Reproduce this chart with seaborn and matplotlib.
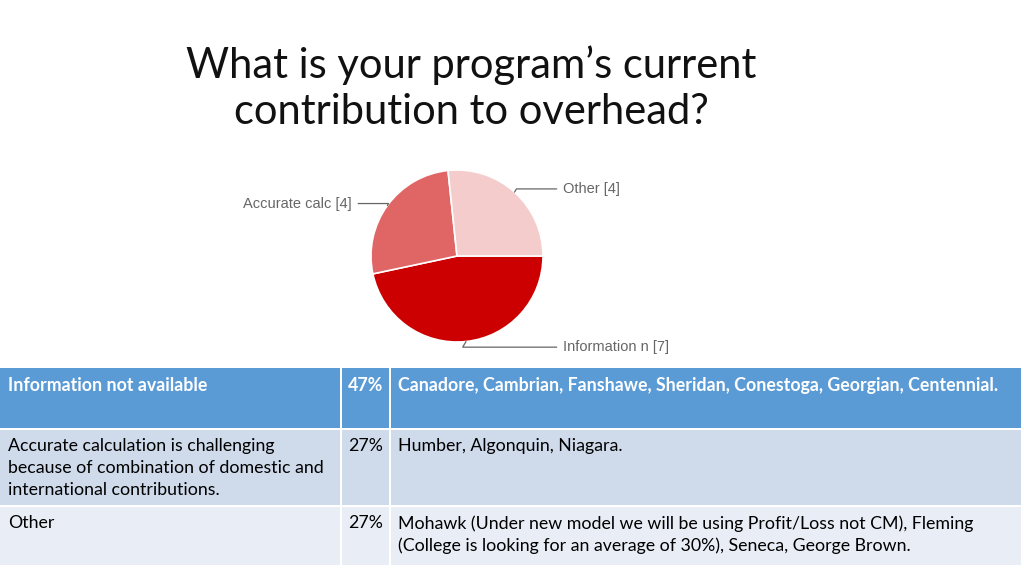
import numpy as np
import matplotlib.pyplot as plt
import seaborn as sns
from matplotlib.patches import Rectangle

sns.set_theme(style='white')
plt.rcParams['font.family'] = ['Lato', 'DejaVu Sans']

# pie data
pie_labels = ['Information n', 'Accurate calc', 'Other']
pie_counts = [7, 4, 4]
pie_colors = ['#cc0000', '#e06666', '#f4cccc']

# table data
row_answers = ['Information not available',
               'Accurate calculation is challenging\nbecause of combination of domestic and\ninternational contributions.',
               'Other']
row_shares = ['47%', '27%', '27%']
row_colleges = ['Canadore, Cambrian, Fanshawe, Sheridan, Conestoga, Georgian, Centennial.',
                'Humber, Algonquin, Niagara.',
                'Mohawk (Under new model we will be using Profit/Loss not CM), Fleming\n(College is looking for an average of 30%), Seneca, George Brown.']
row_fills = ['#5b9bd5', '#cfdbeb', '#e9eef6']

W, H = 1024, 576
fig = plt.figure(figsize=(W / 100, H / 100), dpi=100)


def px_axes(x0, y0, w, h):
    return fig.add_axes([x0 / W, 1 - (y0 + h) / H, w / W, h / H])


# title
fig.text(471 / W, 1 - 88 / H, "What is your program\u2019s current\ncontribution to overhead?",
         ha='center', va='center', fontsize=30, color='#111111', linespacing=1.25)

# pie
R = 86
cx, cy = 457, 256
ax = px_axes(cx - R, cy - R, 2 * R, 2 * R)
wedges, _ = ax.pie(pie_counts, colors=pie_colors, startangle=0, counterclock=False,
                   wedgeprops=dict(edgecolor='white', linewidth=1.2), radius=1)
ax.set_xlim(-1, 1)
ax.set_ylim(-1, 1)
ax.set_aspect('equal')
ax.axis('off')

text_pos = {'Other': (1.23, 0.78, 'left'),
            'Accurate calc': (-1.22, 0.61, 'right'),
            'Information n': (1.23, -1.06, 'left')}
for w, lab, n in zip(wedges, pie_labels, pie_counts):
    mid = np.deg2rad((w.theta1 + w.theta2) / 2)
    px, py = np.cos(mid), np.sin(mid)
    tx, ty, ha = text_pos[lab]
    ax.annotate(f'{lab} [{n}]', xy=(px, py), xytext=(tx, ty), ha=ha, va='center',
                fontsize=10.5, color='#666666', family=['Liberation Sans', 'DejaVu Sans'],
                annotation_clip=False,
                arrowprops=dict(arrowstyle='-', color='#666666', lw=0.9,
                                shrinkA=2, shrinkB=0,
                                connectionstyle='angle,angleA=0,angleB=60,rad=0'))

# table
tax = px_axes(0, 365, W, 205)
tax.set_xlim(0, W)
tax.set_ylim(570, 365)
tax.axis('off')
col_x = [0, 342, 391, 1023]
row_y = [368, 430, 507, 567]
for i in range(3):
    y0, y1 = row_y[i], row_y[i + 1]
    for j in range(3):
        x0, x1 = col_x[j], col_x[j + 1]
        tax.add_patch(Rectangle((x0, y0), x1 - x0 - 2, y1 - y0 - 2,
                                facecolor=row_fills[i], edgecolor='none'))
    header = i == 0
    kw = dict(fontsize=12.8, va='top', linespacing=1.45,
              color='white' if header else 'black',
              fontweight='bold' if header else 'normal')
    ty = y0 + (9 if header else 8)
    tax.text(col_x[0] + 8, ty, row_answers[i], ha='left', **kw)
    tax.text(col_x[2] - 8, ty, row_shares[i], ha='right', **kw)
    tax.text(col_x[2] + 7, ty, row_colleges[i], ha='left', **kw)

fig.savefig('out.png', dpi=100)
